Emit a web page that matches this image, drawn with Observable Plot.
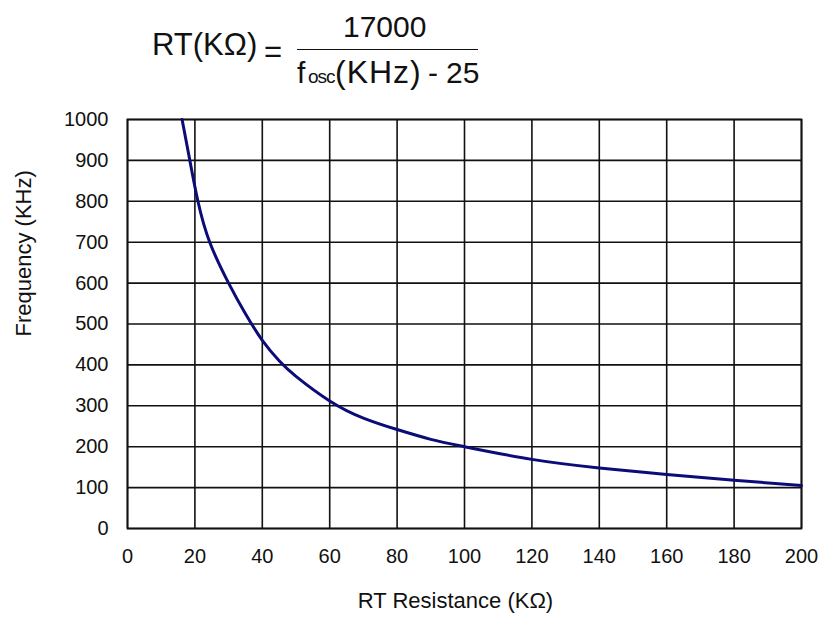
<!DOCTYPE html>
<html>
<head>
<meta charset="utf-8">
<script src="https://cdn.jsdelivr.net/npm/d3@7"></script>
<script src="https://cdn.jsdelivr.net/npm/@observablehq/plot@0.6"></script>
<style>
  body { margin: 0; background: white; font-family: "Liberation Sans", Arial, sans-serif; color: #111; }
  #title { position: relative; width: 821px; height: 90px; background: white; }
  #title span { position: absolute; white-space: nowrap; line-height: 1; }
  #fracline { position: absolute; left: 297px; top: 48.5px; width: 181px; height: 1.6px; background: #111; }
</style>
</head>
<body>
<div id="title">
  <span style="left:152px; top:28.8px; font-size:31px;">RT(KΩ)</span>
  <span style="left:264px; top:36px; font-size:31px;">=</span>
  <div id="fracline"></div>
  <span style="left:343px; top:11.9px; font-size:30px;">17000</span>
  <span style="left:297px; top:57.9px; font-size:30px;">f</span>
  <span style="left:308px; top:67.2px; font-size:19px; letter-spacing:-1px;">osc</span>
  <span style="left:335px; top:56.2px; font-size:32px; letter-spacing:1px;">(KHz)</span>
  <span style="left:428px; top:57.9px; font-size:30px;">-</span>
  <span style="left:446px; top:57.9px; font-size:30px;">25</span>
</div>
<div id="chart"></div>
<script>
const rtValues = [16.2, 18.5, 20.9, 24.4, 30, 35, 40, 45, 50, 60, 70, 80, 90, 100, 120, 140, 160, 180, 200];
const freqValues = [1000, 900, 800, 700, 600, 525, 460, 410, 372, 312, 270, 242, 218, 200, 169, 148, 132, 118, 105];
const xTicks = [0, 20, 40, 60, 80, 100, 120, 140, 160, 180, 200];
const yTicks = [0, 100, 200, 300, 400, 500, 600, 700, 800, 900, 1000];
const yLabel = "Frequency (KHz)";
const xLabel = "RT Resistance (KΩ)";

const data = rtValues.map((r, i) => ({rt: r, f: freqValues[i]}));

const chart = Plot.plot({
  width: 821,
  height: 528,
  marginLeft: 127,
  marginRight: 20,
  marginTop: 29,
  marginBottom: 90,
  style: {fontFamily: "'Liberation Sans', Arial, sans-serif", fontSize: "20px", color: "#111", background: "white", overflow: "visible"},
  x: {domain: [0, 200]},
  y: {domain: [0, 1000]},
  marks: [
    Plot.gridX(xTicks, {stroke: "#111", strokeOpacity: 1, strokeWidth: 1.6}),
    Plot.gridY(yTicks, {stroke: "#111", strokeOpacity: 1, strokeWidth: 1.6}),
    Plot.frame({stroke: "#111", strokeWidth: 1.8}),
    Plot.axisX(xTicks, {tickSize: 0, tickPadding: 20, label: null, fontSize: 20, tickFormat: d => String(d)}),
    Plot.axisY(yTicks, {tickSize: 0, tickPadding: 19, label: null, fontSize: 20, tickFormat: d => String(d)}),
    Plot.line(data, {x: "rt", y: "f", stroke: "#0c0c78", strokeWidth: 3, curve: "natural"}),
    Plot.text([yLabel], {text: d => d, frameAnchor: "left", dx: -104, dy: 12.5, rotate: -90, fontSize: 22}),
    Plot.text([xLabel], {text: d => d, frameAnchor: "bottom", dx: -9, dy: 79.5, fontSize: 22})
  ]
});
document.getElementById("chart").appendChild(chart);
</script>
</body>
</html>
